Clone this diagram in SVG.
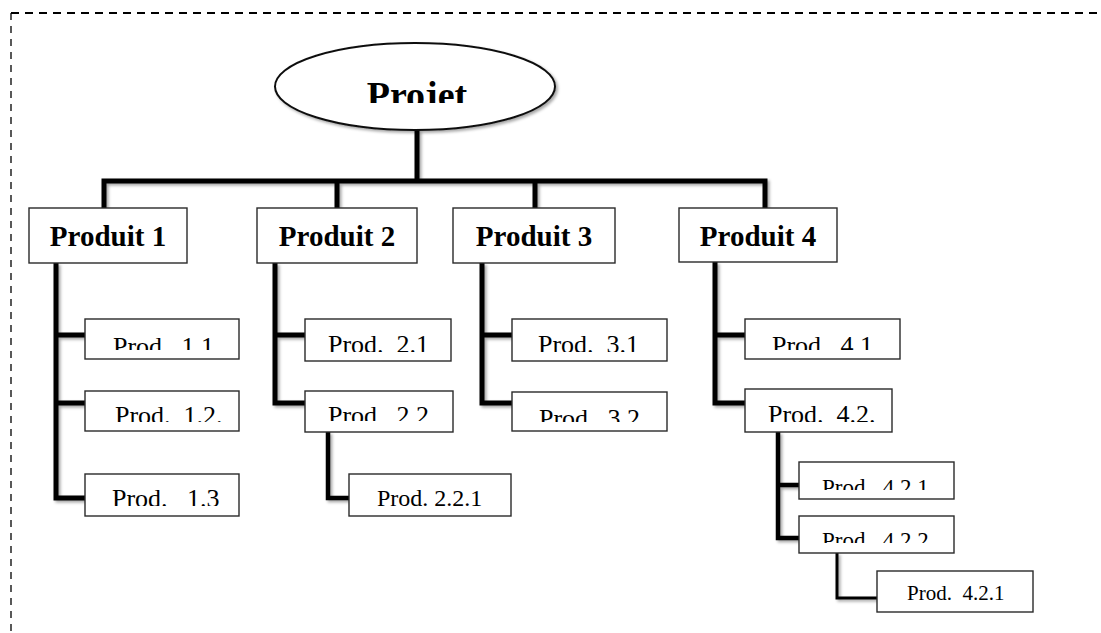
<svg xmlns="http://www.w3.org/2000/svg" width="1101" height="633" viewBox="0 0 1101 633">
<style>
.box{fill:#fff;stroke:#2a2a2a;stroke-width:1.4}
.c{fill:none;stroke:#000;stroke-width:5;stroke-linejoin:miter}
.t{font-family:"Liberation Serif","Times New Roman",serif;fill:#000}
.b{font-weight:bold;font-size:29px}
.s{font-size:26px}
</style>
<defs>
<filter id="sh" x="-10%" y="-10%" width="130%" height="130%">
<feDropShadow dx="2" dy="2" stdDeviation="1.5" flood-color="#000" flood-opacity="0.35"/>
</filter>
<clipPath id="cP"><rect x="300" y="60" width="240" height="43"/></clipPath>
<clipPath id="c11"><rect x="86" y="320" width="152" height="30"/></clipPath>
<clipPath id="c12"><rect x="86" y="392" width="152" height="30"/></clipPath>
<clipPath id="c13"><rect x="86" y="475" width="152" height="31"/></clipPath>
<clipPath id="c21"><rect x="306" y="320" width="144" height="32"/></clipPath>
<clipPath id="c22"><rect x="306" y="392" width="146" height="29"/></clipPath>
<clipPath id="c31"><rect x="513" y="320" width="153" height="32"/></clipPath>
<clipPath id="c32"><rect x="513" y="393" width="153" height="29"/></clipPath>
<clipPath id="c41"><rect x="746" y="320" width="153" height="30"/></clipPath>
<clipPath id="c42"><rect x="746" y="390" width="145" height="32"/></clipPath>
<clipPath id="c421"><rect x="800" y="463" width="153" height="27"/></clipPath>
<clipPath id="c422"><rect x="800" y="517" width="153" height="26"/></clipPath>
</defs>

<g id="frame" fill="none" stroke="#000">
<line x1="11" y1="13" x2="1101" y2="13" stroke-width="2" stroke-dasharray="8 6"/>
<line x1="11" y1="13" x2="11" y2="633" stroke-width="1.3" stroke-dasharray="7 6"/>
</g>

<g id="connectors" filter="url(#sh)">
<path class="c" d="M417,130 V181"/>
<path class="c" d="M104,208 V181 H765 V208"/>
<path class="c" d="M337,181 V208 M535,181 V208"/>
<path class="c" d="M56,263 V498 H85 M56,335 H85 M56,403 H85"/>
<path class="c" d="M275,263 V403 H305 M275,335 H305"/>
<path class="c" style="stroke-width:4.5" d="M328,432 V498 H349"/>
<path class="c" d="M482,263 V403 H512 M482,335 H512"/>
<path class="c" d="M715,262 V403 H745 M715,335 H745"/>
<path class="c" style="stroke-width:4.5" d="M778,432 V538 H799 M778,485 H799"/>
<path class="c" style="stroke-width:3" d="M837,553 V598 H877"/>
</g>

<g id="projet">
<ellipse cx="415" cy="86.5" rx="140" ry="43.5" fill="#fff" stroke="#111" stroke-width="2" filter="url(#sh)"/>
<text class="t" x="417" y="108" font-size="38" font-weight="bold" text-anchor="middle" clip-path="url(#cP)">Projet</text>
</g>

<g id="produit1"><rect class="box" x="29" y="208" width="158" height="55"/><text class="t b" x="108" y="246" text-anchor="middle">Produit 1</text></g>
<g id="produit2"><rect class="box" x="257" y="208" width="160" height="55"/><text class="t b" x="337" y="246" text-anchor="middle">Produit 2</text></g>
<g id="produit3"><rect class="box" x="453" y="208" width="162" height="55"/><text class="t b" x="534" y="246" text-anchor="middle">Produit 3</text></g>
<g id="produit4"><rect class="box" x="679" y="208" width="158" height="54"/><text class="t b" x="758" y="246" text-anchor="middle">Produit 4</text></g>

<g id="prod11"><rect class="box" x="85" y="319" width="154" height="40"/><text class="t s" x="113" y="355" clip-path="url(#c11)" xml:space="preserve">Prod.  1.1</text></g>
<g id="prod12"><rect class="box" x="85" y="391" width="154" height="40"/><text class="t s" x="115" y="424" clip-path="url(#c12)" xml:space="preserve">Prod.  1.2.</text></g>
<g id="prod13"><rect class="box" x="85" y="474" width="154" height="42"/><text class="t s" x="112" y="507" clip-path="url(#c13)" xml:space="preserve">Prod.   1.3</text></g>

<g id="prod21"><rect class="box" x="305" y="319" width="146" height="42"/><text class="t s" x="328" y="353" clip-path="url(#c21)" xml:space="preserve">Prod.  2.1</text></g>
<g id="prod22"><rect class="box" x="305" y="391" width="148" height="41"/><text class="t s" x="328" y="424" clip-path="url(#c22)" xml:space="preserve">Prod.  2.2.</text></g>
<g id="prod221"><rect class="box" x="349" y="474" width="162" height="42"/><text class="t" x="377" y="506" font-size="24">Prod. 2.2.1</text></g>

<g id="prod31"><rect class="box" x="512" y="319" width="155" height="42"/><text class="t s" x="538" y="353" clip-path="url(#c31)" xml:space="preserve">Prod.  3.1</text></g>
<g id="prod32"><rect class="box" x="512" y="392" width="155" height="39"/><text class="t s" x="539" y="427" clip-path="url(#c32)" xml:space="preserve">Prod.  3.2</text></g>

<g id="prod41"><rect class="box" x="745" y="319" width="155" height="40"/><text class="t s" x="772" y="354" clip-path="url(#c41)" xml:space="preserve">Prod.  4.1</text></g>
<g id="prod42"><rect class="box" x="745" y="389" width="147" height="43"/><text class="t s" x="768" y="423" clip-path="url(#c42)" xml:space="preserve">Prod.  4.2.</text></g>
<g id="prod421"><rect class="box" x="799" y="462" width="155" height="37"/><text class="t" x="822" y="495" font-size="23" clip-path="url(#c421)" xml:space="preserve">Prod.  4.2.1</text></g>
<g id="prod422"><rect class="box" x="799" y="516" width="155" height="37"/><text class="t" x="822" y="548" font-size="23" clip-path="url(#c422)" xml:space="preserve">Prod.  4.2.2</text></g>
<g id="prod4221"><rect class="box" x="877" y="571" width="156" height="41"/><text class="t" x="907" y="600" font-size="21" xml:space="preserve">Prod.  4.2.1</text></g>
</svg>
